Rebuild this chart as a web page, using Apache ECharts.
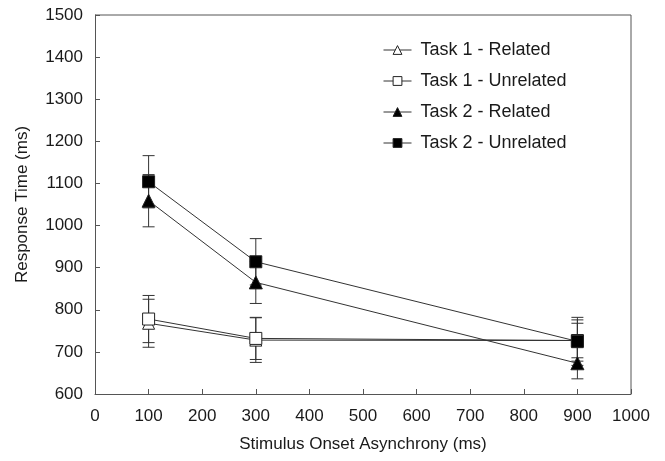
<!DOCTYPE html>
<html>
<head>
<meta charset="utf-8">
<script src="https://cdn.jsdelivr.net/npm/echarts@6/dist/echarts.min.js"></script>
<style>
  html, body { margin: 0; padding: 0; background: #fff; }
  #chart { width: 665px; height: 461px; }
</style>
</head>
<body>
<div id="chart"></div>
<script>
// stimulus onset asynchrony (ms)
const soa = [100, 300, 900];

// mean response times (ms)
const t1Related = [768, 728, 727];
const t1Unrelated = [778, 732, 727];
const t2Related = [1059, 865, 673];
const t2Unrelated = [1104, 914, 725];

// error bar half-widths (ms)
const t1RelatedErr = [57, 53, 41];
const t1UnrelatedErr = [56, 50, 49];
const t2RelatedErr = [62, 50, 37];
const t2UnrelatedErr = [62, 55, 57];

const seriesNames = ['Task 1 - Related', 'Task 1 - Unrelated', 'Task 2 - Related', 'Task 2 - Unrelated'];

const FONT = 'Liberation Sans, Arial, sans-serif';
const INK = '#1a1a1a';

const chart = echarts.init(document.getElementById('chart'));

const pts = (ys) => soa.map((x, i) => [x, ys[i]]);
const errPts = (ys, es) => soa.map((x, i) => [x, ys[i], es[i]]);

const renderErr = (params, api) => {
  const x = api.value(0);
  const y = api.value(1);
  const e = api.value(2);
  const top = api.coord([x, y + e]);
  const bot = api.coord([x, y - e]);
  const cap = 6;
  const style = { stroke: '#333', lineWidth: 1 };
  return {
    type: 'group',
    children: [
      { type: 'line', shape: { x1: top[0], y1: top[1], x2: bot[0], y2: bot[1] }, style },
      { type: 'line', shape: { x1: top[0] - cap, y1: top[1], x2: top[0] + cap, y2: top[1] }, style },
      { type: 'line', shape: { x1: bot[0] - cap, y1: bot[1], x2: bot[0] + cap, y2: bot[1] }, style }
    ]
  };
};

const errSeries = (ys, es) => ({
  type: 'custom',
  renderItem: renderErr,
  data: errPts(ys, es),
  z: 1,
  silent: true
});

const lineSeries = (name, ys, symbol, size, hollow) => ({
  name,
  type: 'line',
  data: pts(ys),
  symbol,
  symbolSize: size,
  showAllSymbol: true,
  z: 3,
  lineStyle: { color: '#333', width: 1 },
  itemStyle: { color: hollow ? '#fff' : '#000', borderColor: '#222', borderWidth: 1 },
  emphasis: { disabled: true }
});

const option = {
  animation: false,
  backgroundColor: '#fff',
  grid: { left: 95, right: 34, top: 15, bottom: 67 },
  legend: {
    data: seriesNames,
    orient: 'vertical',
    left: 378,
    top: 36,
    itemWidth: 28,
    itemHeight: 11,
    itemGap: 13,
    itemStyle: { borderWidth: 1 },
    lineStyle: { width: 1 },
    textStyle: { fontFamily: FONT, fontSize: 18, color: INK, padding: [0, 0, 0, 4] }
  },
  xAxis: {
    type: 'value',
    min: 0,
    max: 1000,
    interval: 100,
    name: 'Stimulus Onset Asynchrony (ms)',
    nameLocation: 'middle',
    nameGap: 42,
    nameTextStyle: { fontFamily: FONT, fontSize: 17, color: INK },
    axisLine: { lineStyle: { color: '#555', width: 1 } },
    axisTick: { inside: true, length: 5, lineStyle: { color: '#555' } },
    axisLabel: { fontFamily: FONT, fontSize: 17, color: INK, margin: 14, formatter: (v) => String(v) },
    splitLine: { show: false }
  },
  yAxis: {
    type: 'value',
    min: 600,
    max: 1500,
    interval: 100,
    name: 'Response Time (ms)',
    nameLocation: 'middle',
    nameGap: 64,
    nameTextStyle: { fontFamily: FONT, fontSize: 17, color: INK },
    axisLine: { show: true, lineStyle: { color: '#555', width: 1 } },
    axisTick: { show: true, inside: true, length: 5, lineStyle: { color: '#555' } },
    axisLabel: { fontFamily: FONT, fontSize: 17, color: INK, margin: 12, formatter: (v) => String(v) },
    splitLine: { show: false }
  },
  graphic: [
    // right and top frame of the plot area
    { type: 'polyline', shape: { points: [[95, 15], [631, 15], [631, 394]] }, style: { stroke: '#555', lineWidth: 1, fill: null }, silent: true }
  ],
  series: [
    errSeries(t1Related, t1RelatedErr),
    errSeries(t1Unrelated, t1UnrelatedErr),
    errSeries(t2Related, t2RelatedErr),
    errSeries(t2Unrelated, t2UnrelatedErr),
    lineSeries(seriesNames[0], t1Related, 'triangle', 12, true),
    lineSeries(seriesNames[1], t1Unrelated, 'rect', 12, true),
    lineSeries(seriesNames[2], t2Related, 'triangle', 13, false),
    lineSeries(seriesNames[3], t2Unrelated, 'rect', 12, false)
  ]
};

chart.setOption(option);
</script>
</body>
</html>
